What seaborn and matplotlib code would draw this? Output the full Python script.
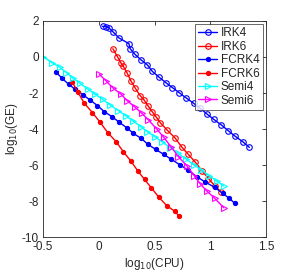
import matplotlib
matplotlib.use('Agg')
import matplotlib.pyplot as plt
import seaborn as sns

# values (log10 CPU, log10 GE)
irk4_x = [0.033, 0.066, 0.092, 0.128, 0.18, 0.27, 0.28, 0.32, 0.377, 0.435, 0.48, 0.54, 0.60,
          0.66, 0.72, 0.78, 0.85, 0.91, 0.97, 1.03, 1.10, 1.16, 1.22, 1.29, 1.35]
irk4_y = [1.70, 1.69, 1.61, 1.39, 1.06, 0.74, 0.47, 0.17, -0.15, -0.44, -0.80, -1.12, -1.42,
          -1.70, -1.98, -2.26, -2.57, -2.85, -3.17, -3.46, -3.78, -4.09, -4.39, -4.70, -5.02]

irk6_x = [0.126, 0.167, 0.197, 0.218, 0.254, 0.287, 0.328, 0.37, 0.406, 0.442, 0.478, 0.514,
          0.55, 0.613, 0.684, 0.744, 0.80, 0.864, 0.924, 0.983, 1.043, 1.097]
irk6_y = [0.46, 0.02, -0.32, -0.50, -0.89, -1.32, -1.74, -2.14, -2.39, -2.72, -3.03, -3.33,
          -3.64, -4.06, -4.50, -5.00, -5.39, -5.83, -6.31, -6.75, -7.17, -7.50]

fcrk4_x = [-0.383, -0.33, -0.27, -0.21, -0.14, -0.078, -0.012, 0.05, 0.117, 0.185, 0.25, 0.31,
           0.38, 0.44, 0.51, 0.58, 0.65, 0.73, 0.80, 0.88, 0.95, 1.04, 1.11, 1.17, 1.22]
fcrk4_y = [-0.85, -1.18, -1.52, -1.80, -2.11, -2.39, -2.70, -3.04, -3.31, -3.63, -3.93, -4.24,
           -4.52, -4.85, -5.13, -5.40, -5.68, -6.00, -6.28, -6.65, -6.93, -7.24, -7.57, -7.85, -8.13]

fcrk6_x = [-0.24, -0.19, -0.13, -0.057, 0.012, 0.08, 0.155, 0.22, 0.29, 0.35, 0.41, 0.47,
           0.54, 0.61, 0.68, 0.72]
fcrk6_y = [-1.37, -1.93, -2.57, -3.09, -3.63, -4.20, -4.70, -5.26, -5.80, -6.33, -6.80, -7.26,
           -7.80, -8.26, -8.56, -8.83]

semi4_x = [-0.497, -0.42, -0.35, -0.29, -0.23, -0.17, -0.10, -0.033, 0.036, 0.10, 0.176, 0.245,
           0.31, 0.377, 0.436, 0.50, 0.57, 0.64, 0.71, 0.78, 0.85, 0.92, 0.99, 1.06, 1.12]
semi4_y = [0.02, -0.32, -0.57, -0.87, -1.18, -1.46, -1.78, -2.07, -2.35, -2.67, -2.98, -3.28,
           -3.56, -3.87, -4.15, -4.42, -4.72, -5.03, -5.35, -5.66, -5.97, -6.28, -6.60, -6.90, -7.17]

semi6_x = [0.005, 0.063, 0.13, 0.20, 0.257, 0.32, 0.386, 0.445, 0.52, 0.58, 0.65, 0.714,
           0.79, 0.857, 0.91, 0.97, 1.04, 1.12]
semi6_y = [-0.96, -1.32, -1.74, -2.07, -2.44, -2.76, -3.13, -3.50, -4.00, -4.45, -5.00, -5.54,
           -6.05, -6.60, -7.05, -7.45, -7.85, -8.37]

sns.set_style('white')
plt.rcParams['font.family'] = ['Liberation Sans', 'DejaVu Sans']
plt.rcParams['font.size'] = 8.5

fig = plt.figure(figsize=(2.95, 2.76), dpi=100)
ax = fig.add_axes([0.146, 0.141, 0.756, 0.783])

series = [
    ('IRK4', irk4_x, irk4_y, 'blue', 'o', 'none'),
    ('IRK6', irk6_x, irk6_y, 'red', 'o', 'none'),
    ('FCRK4', fcrk4_x, fcrk4_y, 'blue', 'o', 'blue'),
    ('FCRK6', fcrk6_x, fcrk6_y, 'red', 'o', 'red'),
    ('Semi4', semi4_x, semi4_y, 'cyan', '>', 'none'),
    ('Semi6', semi6_x, semi6_y, 'magenta', '>', 'none'),
]
for name, xs, ys, col, mk, fc in series:
    ms = 3 if fc != 'none' else 4
    sns.lineplot(x=xs, y=ys, ax=ax, color=col, marker=mk, markersize=ms,
                 markerfacecolor=fc, markeredgecolor=col, markeredgewidth=0.8,
                 linewidth=1, sort=False, estimator=None, label=name)

ax.set_xlim(-0.5, 1.5)
ax.set_ylim(-10, 2)
ax.set_xticks([-0.5, 0, 0.5, 1, 1.5])
ax.set_xticklabels(['-0.5', '0', '0.5', '1', '1.5'])
ax.set_yticks([-10, -8, -6, -4, -2, 0, 2])
ax.set_yticklabels(['-10', '-8', '-6', '-4', '-2', '0', '2'])
ax.tick_params(direction='in', length=3, width=0.6, top=True, right=True,
               colors='#262626', labelsize=8.5, pad=3)
for sp in ax.spines.values():
    sp.set_color('#262626')
    sp.set_linewidth(0.6)
ax.set_xlabel('log$_{10}$(CPU)', fontsize=8.5, labelpad=2)
ax.set_ylabel('log$_{10}$(GE)', fontsize=8.5, labelpad=1)

leg = ax.legend(loc='upper right', fontsize=8.5, frameon=True, fancybox=False,
                handlelength=1.6, handletextpad=0.3, borderpad=0.3, labelspacing=0.12,
                borderaxespad=0.25, edgecolor='#262626')
leg.get_frame().set_linewidth(0.6)

fig.savefig('out.png', dpi=100)
